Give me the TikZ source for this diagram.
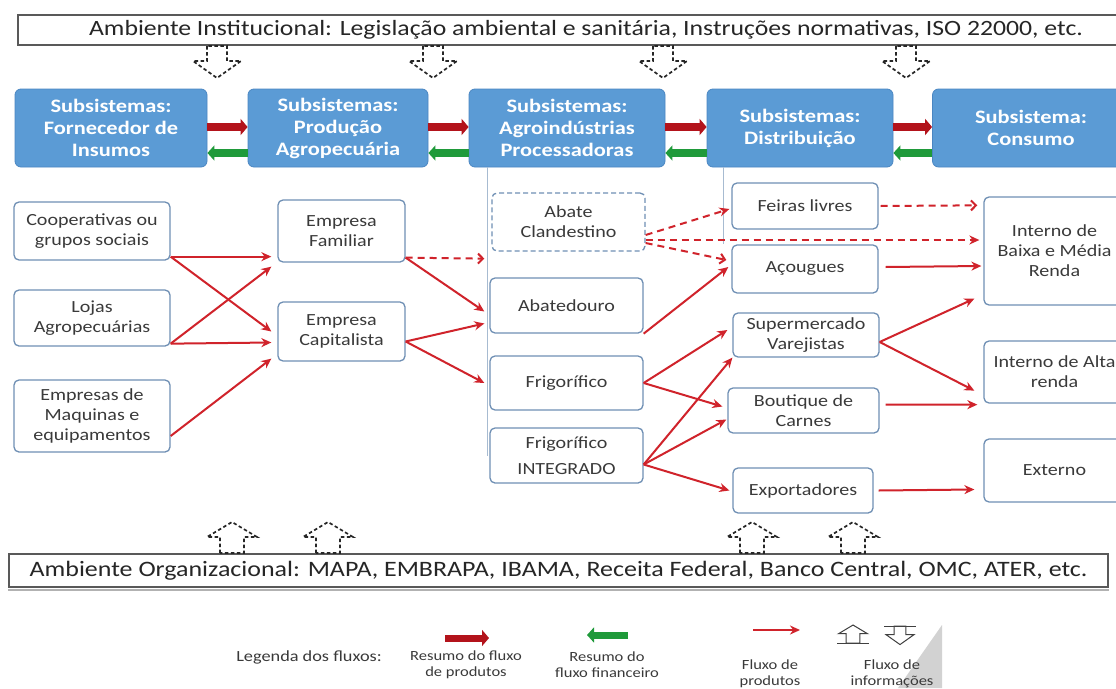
\documentclass[tikz,border=0pt]{standalone}
\usepackage{fontspec}
\setmainfont{Carlito}[FakeStretch=1.18]
\usepackage{tikz}
\usetikzlibrary{arrows.meta}
\definecolor{cHead}  {HTML}{5B9BD5}
\definecolor{cHeadLn}{HTML}{4A86C2}
\definecolor{cEdge}  {HTML}{6F8FB4}
\definecolor{cLine}  {HTML}{A7BBD1}
\definecolor{cRed}   {HTML}{D0232B}
\definecolor{cProd}  {HTML}{B3131B}
\definecolor{cFin}   {HTML}{1F9A3A}
\definecolor{cText}  {HTML}{3A3A3A}

\begin{document}
\begin{tikzpicture}[x=1pt,y=-1pt,
    hdr/.style={rectangle,rounded corners=6pt,fill=cHead,draw=cHeadLn,line width=0.8pt,
      text=white,align=center,minimum height=78pt,inner sep=2pt,
      font=\fontsize{19}{22}\selectfont\bfseries},
    unit/.style={rectangle,rounded corners=5pt,draw=cEdge,line width=1.3pt,fill=white,
      text=cText,align=center,inner sep=2pt,font=\fontsize{17}{20}\selectfont},
    env/.style={rectangle,draw=gray!70!black,line width=1.2pt,fill=white,text=black!85,inner sep=0pt},
    flow/.style={cRed,line width=2pt,-{Stealth[length=10pt,width=9pt]}},
    flowd/.style={flow,dash pattern=on 7pt off 5pt},
    flowo/.style={flowd,-{Straight Barb[length=5pt,width=10pt]}},
    sumprod/.style={cProd,line width=8pt,-{Triangle[length=7pt,width=16pt]}},
    sumfin/.style={cFin,line width=8pt,-{Triangle[length=7pt,width=15pt]}},
    infoline/.style={draw=black!85,line width=1.7pt,dash pattern=on 3.5pt off 2.5pt},
    vline/.style={cLine,line width=1pt},
    lgtext/.style={text=cText,align=center,font=\fontsize{14}{16}\selectfont},
    infodown/.pic={\path[infoline] (-10,0) -- (-10,15) -- (-24,15) -- (0,32) -- (24,15) -- (10,15) -- (10,0) -- cycle;},
    infoup/.pic={\path[infoline] (-12,0) -- (-12,-16) -- (-25,-16) -- (0,-31) -- (25,-16) -- (12,-16) -- (12,0) -- cycle;}]
  \useasboundingbox (0,0) rectangle (1116,688);
  \fill[white] (0,0) rectangle (1116,688);

  % ambientes
  \node[env,minimum width=1136pt,minimum height=30pt,font=\fontsize{21.8}{24}\selectfont] (inst) at (586,30)
    {Ambiente Institucional: Legislação ambiental e sanitária, Instruções normativas, ISO 22000, etc.};
  \node[env,minimum width=1099pt,minimum height=33pt,font=\fontsize{22}{25}\selectfont] (org) at (558.5,570.5)
    {Ambiente Organizacional: MAPA, EMBRAPA, IBAMA, Receita Federal, Banco Central, OMC, ATER, etc.};
  \draw[gray!60,line width=2pt] ([yshift=-2.5pt]org.south west) -- ([yshift=-2.5pt]org.south east);
  \foreach \xx in {217,433,663,906} \pic at (\xx,46) {infodown};
  \foreach \xx in {232,328,752,853} \pic at (\xx,553) {infoup};

  % subsistemas
  \node[hdr,minimum width=192pt] (hFor)  at (111,128)  {Subsistemas:\\Fornecedor de\\Insumos};
  \node[hdr,minimum width=180pt] (hProd) at (338,128)  {Subsistemas:\\Produção\\Agropecuária};
  \node[hdr,minimum width=196pt] (hAgro) at (567,128)  {Subsistemas:\\Agroindústrias\\Processadoras};
  \node[hdr,minimum width=186pt] (hDist) at (800,128)  {Subsistemas:\\Distribuição};
  \node[hdr,minimum width=197pt] (hCons) at (1031,128) {Subsistema:\\Consumo};
  \foreach \a/\b in {hFor/hProd,hProd/hAgro,hAgro/hDist,hDist/hCons}{
    \draw[sumprod] ([yshift=1pt]\a.east) -- ([yshift=1pt]\b.west);
    \draw[sumfin] ([yshift=-25pt]\b.west) -- ([yshift=-25pt]\a.east);
  }

  % agentes
  \node[unit,minimum width=156pt,minimum height=58pt] (coop)  at (92,231)  {Cooperativas ou\\grupos sociais};
  \node[unit,minimum width=156pt,minimum height=56pt] (lojas) at (92,318)  {Lojas\\Agropecuárias};
  \node[unit,minimum width=156pt,minimum height=72pt] (maq)   at (92,416)  {Empresas de\\Maquinas e\\equipamentos};
  \node[unit,minimum width=127pt,minimum height=62pt] (fam)   at (341.5,231)   {Empresa\\Familiar};
  \node[unit,minimum width=127pt,minimum height=59pt] (cap)   at (341.5,331.5) {Empresa\\Capitalista};
  \node[unit,minimum width=153pt,minimum height=58pt,dash pattern=on 5pt off 3pt] (abcl) at (568.5,222) {Abate\\Clandestino};
  \node[unit,minimum width=153pt,minimum height=55pt] (abat)  at (566.5,305.5) {Abatedouro};
  \node[unit,minimum width=153pt,minimum height=54pt] (frig)  at (566.5,383)   {Frigorífico};
  \node[unit,minimum width=153pt,minimum height=55pt] (frint) at (566.5,455.5) {Frigorífico\\[6pt]INTEGRADO};
  \node[unit,minimum width=146pt,minimum height=46pt] (feir)  at (805,206)     {Feiras livres};
  \node[unit,minimum width=146pt,minimum height=48pt] (acou)  at (805,269)     {Açougues};
  \node[unit,minimum width=146pt,minimum height=44pt] (super) at (806,335)     {Supermercado\\Varejistas};
  \node[unit,minimum width=151pt,minimum height=45pt] (bout)  at (803.5,410.5) {Boutique de\\Carnes};
  \node[unit,minimum width=140pt,minimum height=45pt] (expo)  at (803,490.5)   {Exportadores};
  \node[unit,minimum width=141pt,minimum height=108pt] (intb) at (1054.5,251)  {Interno de\\Baixa e Média\\Renda};
  \node[unit,minimum width=141pt,minimum height=62pt] (inta)  at (1054.5,372)  {Interno de Alta\\renda};
  \node[unit,minimum width=141pt,minimum height=63pt] (ext)   at (1054.5,470.5) {Externo};

  \draw[vline] ([xshift=-2pt]abat.west |- hAgro.south) -- ([xshift=-2pt]frint.west);
  \draw[vline] ([xshift=-8pt]feir.west |- hDist.south) -- ([xshift=-8pt]feir.west |- acou.north);

  % fluxos de produtos
  \draw[flow] ([yshift=4pt]coop.south east) -- ([xshift=-6pt,yshift=6pt]fam.south west);
  \draw[flow] ([yshift=4pt]coop.south east) -- ([xshift=-6pt]cap.west);
  \draw[flow] ([yshift=3pt]lojas.south east) -- ([xshift=-6pt,yshift=-4pt]fam.south west);
  \draw[flow] ([yshift=3pt]lojas.south east) -- ([xshift=-6pt,yshift=-11pt]cap.west);
  \draw[flow] ([yshift=-20pt]maq.east) -- ([xshift=-6pt,yshift=3pt]cap.south west);

  \draw[flowo] ([yshift=5pt]fam.south east) -- ([xshift=-7pt,yshift=-7pt]abcl.south west);
  \draw[flow] ([yshift=5pt]fam.south east) -- ([xshift=-5pt,yshift=-6pt]abat.west);
  \draw[flow] ([yshift=-10pt]cap.east) -- ([xshift=-5pt,yshift=-18pt]abat.west);
  \draw[flow] ([yshift=-10pt]cap.east) -- ([xshift=-5pt]frig.west);

  \draw[flowd] ([yshift=-13pt]abcl.east) -- ([xshift=-2pt,yshift=-3pt]feir.west);
  \draw[flowd] ([yshift=-18pt]abcl.east) -- ([xshift=-4pt,yshift=11pt]intb.west);
  \draw[flowo] ([yshift=-21pt]abcl.east) -- ([xshift=-5pt,yshift=9pt]acou.west);
  \draw[flow] (abat.south east) -- ([xshift=-3pt,yshift=2pt]acou.west);
  \draw[flow] (frig.east) -- ([xshift=-5pt,yshift=5pt]super.west);
  \draw[flow] (frig.east) -- ([xshift=-5pt,yshift=4pt]bout.west);
  \draw[flow] ([yshift=-9pt]frint.east) -- (super.south west);
  \draw[flow] ([yshift=-9pt]frint.east) -- ([xshift=-1pt,yshift=-9pt]bout.west);
  \draw[flow] ([yshift=-9pt]frint.east) -- ([xshift=-3pt]expo.west);

  \draw[flowo] ([xshift=2pt]feir.east) -- ([xshift=-6pt,yshift=-9pt]intb.north west);
  \draw[flow] ([xshift=7pt,yshift=2pt]acou.east) -- ([xshift=-2pt,yshift=-15pt]intb.west);
  \draw[flow] ([yshift=-7pt]super.east) -- ([xshift=-9pt,yshift=7pt]intb.south west);
  \draw[flow] ([yshift=-7pt]super.east) -- ([xshift=-9pt,yshift=13pt]inta.south west);
  \draw[flow] ([xshift=6pt,yshift=6pt]bout.east) -- ([xshift=-6pt,yshift=-1pt]inta.south west);
  \draw[flow] ([xshift=5pt]expo.east) -- ([xshift=-9pt,yshift=-19pt]ext.west);

  % legenda
  \fill[gray!35] (942,625) -- (942,688) -- (898,688) -- cycle;
  \node[lgtext,font=\fontsize{15.5}{18}\selectfont] (lgTitle) at (309,657) {Legenda dos fluxos:};
  \node[lgtext] (lgProd) at (466,665)   {Resumo do fluxo\\de produtos};
  \node[lgtext] (lgFin)  at (607,665)   {Resumo do\\fluxo financeiro};
  \node[lgtext] (lgFlow) at (770,673.5) {Fluxo de\\produtos};
  \node[lgtext] (lgInfo) at (892,673.5) {Fluxo de\\informações};
  \coordinate (lpA) at (445,638); \coordinate (lpB) at (489,638);
  \coordinate (lfA) at (628,635); \coordinate (lfB) at (587,635);
  \coordinate (lrA) at (753,630); \coordinate (lrB) at (800,630);
  \coordinate (lgUp) at (853,643); \coordinate (lgDn) at (900,626);
  \draw[sumprod,line width=7pt] (lpA) -- (lpB);
  \draw[sumfin,line width=7pt] (lfA) -- (lfB);
  \draw[flow] (lrA) -- (lrB);
  \begin{scope}[infoline/.style={draw=black!75,line width=1pt}]
    \pic[scale=0.58] at (lgUp) {infoup};
    \pic[scale=0.58] at (lgDn) {infodown};
  \end{scope}
  \draw[black!75,line width=1pt] ([xshift=-16pt]lgUp) -- ([xshift=16pt]lgUp);
  \draw[black!75,line width=1pt] ([xshift=-16pt]lgDn) -- ([xshift=16pt]lgDn);
\end{tikzpicture}
\end{document}
